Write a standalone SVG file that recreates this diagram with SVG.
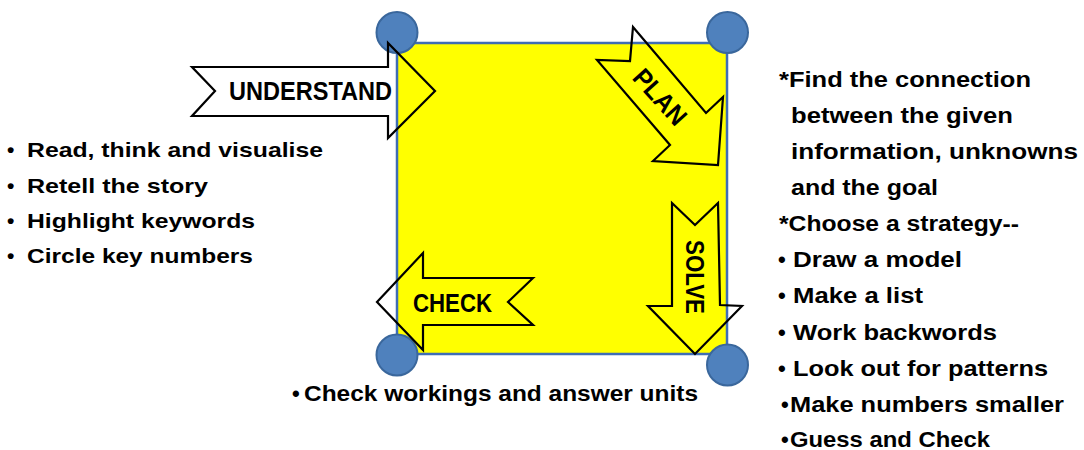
<svg xmlns="http://www.w3.org/2000/svg" width="1084" height="450" viewBox="0 0 1084 450">
  <style>
    .board { fill: #ffff00; stroke: #3f6db5; stroke-width: 2.5; }
    .corner { fill: #4f81bd; stroke: #3a679c; stroke-width: 2; }
    .arrow { fill: none; stroke: #000000; stroke-width: 2.2; stroke-linejoin: miter; }
    .label { font-family: "Liberation Sans", Arial, sans-serif; font-weight: bold; font-size: 26px; fill: #000000; }
    .note { font-family: "Liberation Sans", Arial, sans-serif; font-weight: bold; font-size: 21px; fill: #000000; }
    .note-r { font-family: "Liberation Sans", Arial, sans-serif; font-weight: bold; font-size: 22px; fill: #000000; }
  </style>
  <rect width="1084" height="450" fill="#ffffff"/>

  <!-- the cycle board -->
  <g id="board">
    <rect class="board" x="397" y="43" width="330" height="311"/>
  </g>

  <g id="corners">
    <circle class="corner" cx="397" cy="32.5" r="20.5"/>
    <circle class="corner" cx="727.5" cy="32.5" r="20.5"/>
    <circle class="corner" cx="397" cy="355" r="20.5"/>
    <circle class="corner" cx="727.5" cy="365" r="20.5"/>
  </g>

  <!-- step arrows round the board -->
  <g id="connectors">
    <g id="understand">
      <polygon class="arrow" points="192,67 388,67 388,43 435,91 388,138 388,116 192,116 215,91"/>
      <text class="label" x="229" y="100" textLength="163" lengthAdjust="spacingAndGlyphs">UNDERSTAND</text>
    </g>
    <g id="plan">
      <polygon class="arrow" points="633,27 706,113 723,97 718,165 653,161 670,145 597,60 630,61"/>
      <text class="label" transform="translate(660,97) rotate(48)" x="0" y="9" text-anchor="middle" textLength="66" lengthAdjust="spacingAndGlyphs">PLAN</text>
    </g>
    <g id="solve">
      <polygon class="arrow" points="672,203 695,225 718,203 720,305 742,306 695,354 648,306 672,306"/>
      <text class="label" transform="translate(695,277) rotate(90)" x="0" y="9" text-anchor="middle" textLength="74" lengthAdjust="spacingAndGlyphs">SOLVE</text>
    </g>
    <g id="check">
      <polygon class="arrow" points="533,278 508,302 533,325 423,325 423,350 377,302 423,253 423,278"/>
      <text class="label" x="413" y="312" textLength="79" lengthAdjust="spacingAndGlyphs">CHECK</text>
    </g>
  </g>

  <!-- understand notes -->
  <g id="notes-understand">
    <text class="note" x="7" y="157">•</text>
    <text class="note" x="27" y="157" textLength="296" lengthAdjust="spacingAndGlyphs">Read, think and visualise</text>
    <text class="note" x="7" y="193">•</text>
    <text class="note" x="27" y="193" textLength="181" lengthAdjust="spacingAndGlyphs">Retell the story</text>
    <text class="note" x="7" y="228">•</text>
    <text class="note" x="27" y="228" textLength="228" lengthAdjust="spacingAndGlyphs">Highlight keywords</text>
    <text class="note" x="7" y="263">•</text>
    <text class="note" x="27" y="263" textLength="226" lengthAdjust="spacingAndGlyphs">Circle key numbers</text>
  </g>

  <!-- plan and solve notes -->
  <g id="notes-plan">
    <text class="note-r" x="779" y="87" textLength="252" lengthAdjust="spacingAndGlyphs">*Find the connection</text>
    <text class="note-r" x="791" y="123" textLength="222" lengthAdjust="spacingAndGlyphs">between the given</text>
    <text class="note-r" x="791" y="159" textLength="287" lengthAdjust="spacingAndGlyphs">information, unknowns</text>
    <text class="note-r" x="791" y="195" textLength="147" lengthAdjust="spacingAndGlyphs">and the goal</text>
    <text class="note-r" x="779" y="231" textLength="240" lengthAdjust="spacingAndGlyphs">*Choose a strategy--</text>
    <text class="note-r" x="778" y="267">•</text>
    <text class="note-r" x="793" y="267" textLength="169" lengthAdjust="spacingAndGlyphs">Draw a model</text>
    <text class="note-r" x="778" y="303">•</text>
    <text class="note-r" x="793" y="303" textLength="130" lengthAdjust="spacingAndGlyphs">Make a list</text>
    <text class="note-r" x="778" y="340">•</text>
    <text class="note-r" x="793" y="340" textLength="204" lengthAdjust="spacingAndGlyphs">Work backwords</text>
    <text class="note-r" x="778" y="376">•</text>
    <text class="note-r" x="793" y="376" textLength="255" lengthAdjust="spacingAndGlyphs">Look out for patterns</text>
    <text class="note-r" x="781" y="412">•</text>
    <text class="note-r" x="790" y="412" textLength="274" lengthAdjust="spacingAndGlyphs">Make numbers smaller</text>
    <text class="note-r" x="781" y="447">•</text>
    <text class="note-r" x="790" y="447" textLength="200" lengthAdjust="spacingAndGlyphs">Guess and Check</text>
  </g>

  <!-- check notes -->
  <g id="notes-check">
    <text class="note-r" x="292" y="401">•</text>
    <text class="note-r" x="304" y="401" textLength="394" lengthAdjust="spacingAndGlyphs">Check workings and answer units</text>
  </g>
</svg>
